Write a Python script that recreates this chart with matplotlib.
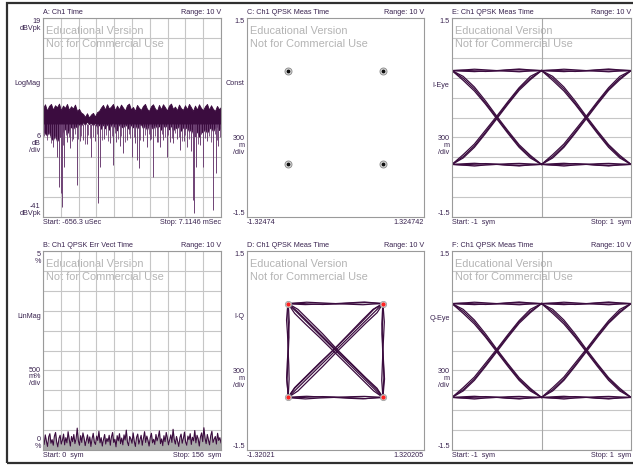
import numpy as np
import matplotlib
matplotlib.use('Agg')
import matplotlib.pyplot as plt
from matplotlib.patches import Rectangle

plt.rcParams['font.family'] = ['Liberation Sans', 'DejaVu Sans']

W, H = 633, 467
TRACE = '#3b0c3f'
SPIKE = '#6e4274'
LENS = '#b898b8'
LABEL = '#3a2450'
GRID = '#c6c6c6'
FRAME = '#9a9a9a'
WATER = '#b4b4b4'

# ---- A: Ch1 Time, LogMag (dBVpk) ----
a_start_us, a_stop_us = -656.3, 7114.6
a_top = [-8.2, -7.0, -8.9, -7.5, -6.9, -8.6, -7.3, -7.9, -6.8, -8.8,
         -7.4, -8.1, -6.9, -8.7, -7.6, -8.3, -7.1, -9.0, -8.4, -9.5,
         -9.9, -10.8, -9.7, -11.0, -10.1, -9.6, -10.7, -9.4, -9.0, -8.0,
         -7.2, -8.6, -7.0, -8.3, -7.7, -6.9, -8.8, -7.4, -8.5, -7.1,
         -8.0, -8.9, -7.3, -6.8, -8.6, -7.8, -9.0, -7.2, -8.1, -8.7,
         -7.5, -6.9, -8.4, -9.0, -7.6, -7.0, -8.3, -8.9, -7.2, -8.5,
         -7.0, -7.9, -8.9, -7.4, -6.8, -8.4, -7.7, -8.8, -7.1, -8.2,
         -8.7, -7.3, -8.5, -6.9, -7.9, -9.0, -7.4, -8.6, -7.0, -8.1,
         -8.8, -7.6, -6.9, -8.6, -7.3, -8.4, -9.0, -7.5, -8.5, -7.8]
a_bot = [-14.9, -15.8, -16.4, -15.0, -17.2, -17.9, -16.0, -18.3, -16.9, -16.6,
         -15.1, -14.2, -16.0, -14.6, -13.8, -14.5, -13.4, -14.1, -12.9, -13.5,
         -12.4, -13.2, -12.2, -13.0, -12.6, -13.4, -12.5, -13.8, -13.1, -14.4,
         -13.0, -14.3, -12.8, -14.7, -13.3, -12.7, -14.2, -14.9, -13.0, -13.6,
         -14.1, -12.9, -13.7, -14.6, -13.1, -14.0, -12.8, -14.4, -13.5, -13.0,
         -14.3, -13.2, -14.8, -12.9, -13.6, -14.5, -13.0, -14.2, -13.4, -14.7,
         -13.1, -14.0, -12.9, -14.6, -13.3, -15.1, -13.8, -14.4, -13.2, -15.0,
         -13.9, -14.5, -13.6, -15.3, -14.1, -15.9, -16.6, -15.0, -16.8, -15.5,
         -15.4, -14.3, -15.7, -14.5, -13.9, -15.2, -14.0, -13.6, -14.8, -13.7]
a_spike_t = [-220, -45, 42, 130, 173, 260, 400, 522, 650, 828,
             960, 1090, 1250, 1440, 1600, 1745, 1832, 2000, 2270, 2400,
             2550, 2700, 2836, 3000, 3230, 3350, 3448, 3535, 3700, 3884,
             4000, 4146, 4300, 4452, 4600, 4757, 4900, 5020, 5200, 5325,
             5500, 5630, 5800, 5893, 5936, 6024, 6200, 6330, 6500, 6766,
             6897, 7000]
a_spike_db = [-19.9, -22.9, -32.0, -33.8, -38.0, -25.9, -18.5, -20.2, -17.5, -31.3,
              -18.0, -17.8, -19.0, -22.9, -18.2, -36.8, -25.9, -17.6, -18.7, -25.3,
              -18.4, -19.6, -21.7, -17.9, -22.9, -18.6, -23.8, -26.2, -18.1, -19.9,
              -17.7, -28.9, -18.3, -19.9, -17.8, -22.9, -18.5, -18.7, -17.6, -20.8,
              -18.2, -19.9, -21.0, -35.9, -39.8, -25.9, -19.3, -25.9, -18.0, -38.9,
              -27.7, -19.5]
a_hair_t = [-600, -500, -380, -300, -130, 90, 210, 330, 470, 590,
            720, 880, 1020, 1160, 1320, 1390, 1520, 1680, 1900, 2100,
            2180, 2340, 2480, 2620, 2760, 2920, 3080, 3160, 3300, 3600,
            3780, 3960, 4080, 4220, 4380, 4520, 4680, 4820, 4980, 5100,
            5260, 5420, 5560, 5720, 5980, 6100, 6260, 6420, 6580, 6680,
            6850, 6960, 7080]
a_hair_db = [-16.5, -17.8, -16.0, -18.6, -17.2, -16.8, -19.4, -16.3, -17.0, -18.2,
             -16.1, -17.5, -16.6, -18.9, -16.2, -17.3, -16.9, -15.9, -17.7, -16.4,
             -18.1, -16.7, -15.8, -17.4, -16.5, -18.5, -16.0, -17.1, -16.8, -17.9,
             -16.3, -15.9, -17.6, -16.6, -18.3, -16.1, -17.0, -16.4, -17.2, -15.8,
             -16.9, -18.0, -16.2, -17.4, -16.7, -19.0, -16.0, -17.3, -16.6, -18.4,
             -16.1, -17.7, -16.9]

# ---- B: Ch1 QPSK Err Vect Time (%) ----
b_evm = [0.30, 0.14, 0.38, 0.22, 0.09, 0.33, 0.41, 0.17, 0.26, 0.12,
         0.35, 0.44, 0.20, 0.08, 0.29, 0.37, 0.15, 0.24, 0.40, 0.13,
         0.31, 0.18, 0.46, 0.27, 0.10, 0.34, 0.21, 0.39, 0.16, 0.28,
         0.55, 0.23, 0.12, 0.36, 0.19, 0.43, 0.30, 0.11, 0.25, 0.38,
         0.17, 0.33, 0.09, 0.28, 0.42, 0.20, 0.14, 0.35, 0.24, 0.47,
         0.18, 0.31, 0.10, 0.26, 0.39, 0.15, 0.29, 0.21, 0.37, 0.12,
         0.33, 0.44, 0.19, 0.27, 0.08, 0.36, 0.23, 0.41, 0.16, 0.30,
         0.13, 0.38, 0.25, 0.50, 0.20, 0.11, 0.34, 0.28, 0.17, 0.43,
         0.22, 0.09, 0.32, 0.40, 0.15, 0.26, 0.37, 0.12, 0.29, 0.46,
         0.19, 0.35, 0.24, 0.10, 0.31, 0.42, 0.18, 0.27, 0.14, 0.39,
         0.23, 0.33, 0.48, 0.16, 0.28, 0.11, 0.36, 0.21, 0.44, 0.30,
         0.13, 0.25, 0.38, 0.19, 0.52, 0.27, 0.15, 0.34, 0.22, 0.09,
         0.31, 0.40, 0.17, 0.29, 0.45, 0.20, 0.12, 0.35, 0.26, 0.41,
         0.14, 0.32, 0.23, 0.49, 0.18, 0.37, 0.28, 0.10, 0.33, 0.43,
         0.21, 0.56, 0.30, 0.16, 0.39, 0.25, 0.13, 0.36, 0.47, 0.19,
         0.27, 0.34, 0.15, 0.42, 0.24, 0.31, 0.18]

# ---- C: constellation points ----
const_i = [-0.707, 0.707, -0.707, 0.707]
const_q = [0.707, 0.707, -0.707, -0.707]

# ---- eye / I-Q trajectory pieces, sampled every 1/8 symbol ----
eye_frac = [0.0, 0.125, 0.25, 0.375, 0.5, 0.625, 0.75, 0.875, 1.0]
fall_1 = [0.707, 0.59, 0.43, 0.22, 0.00, -0.22, -0.43, -0.59, -0.707]
fall_2 = [0.707, 0.62, 0.46, 0.25, 0.02, -0.20, -0.41, -0.57, -0.707]
fall_3 = [0.707, 0.56, 0.40, 0.20, -0.02, -0.24, -0.45, -0.61, -0.707]
rise_1 = [-0.707, -0.59, -0.43, -0.22, 0.00, 0.22, 0.43, 0.59, 0.707]
rise_2 = [-0.707, -0.61, -0.45, -0.24, -0.02, 0.20, 0.41, 0.57, 0.707]
rise_3 = [-0.707, -0.56, -0.40, -0.19, 0.02, 0.24, 0.45, 0.62, 0.707]
high_1 = [0.707, 0.716, 0.728, 0.718, 0.707, 0.719, 0.731, 0.717, 0.707]
high_2 = [0.707, 0.699, 0.692, 0.700, 0.707, 0.698, 0.690, 0.701, 0.707]
high_3 = [0.707, 0.711, 0.702, 0.694, 0.703, 0.714, 0.722, 0.712, 0.707]
low_1 = [-0.707, -0.718, -0.730, -0.716, -0.707, -0.720, -0.729, -0.715, -0.707]
low_2 = [-0.707, -0.698, -0.690, -0.701, -0.707, -0.697, -0.692, -0.700, -0.707]
low_3 = [-0.707, -0.712, -0.703, -0.695, -0.704, -0.713, -0.724, -0.711, -0.707]
eye_pieces = [fall_1, fall_2, fall_3, rise_1, rise_2, rise_3,
              high_1, high_2, high_3, low_1, low_2, low_3]
iq_pairs = [(rise_1, high_1), (rise_2, high_2), (rise_3, high_3),
            (rise_1, low_2), (rise_2, low_1), (rise_3, low_3),
            (high_1, fall_1), (high_2, fall_3), (high_3, fall_2),
            (low_1, fall_2), (low_2, fall_1), (low_3, fall_3),
            (rise_1, fall_1), (rise_2, fall_3), (rise_3, fall_2),
            (rise_1, rise_1), (rise_2, rise_3), (rise_3, rise_2),
            (fall_2, rise_1), (fall_3, fall_2)]

fig = plt.figure(figsize=(W / 100, H / 100), dpi=100)
fig.patches.append(Rectangle((7 / W, 1 - 463 / H), 640 / W, 460 / H,
                             transform=fig.transFigure, fill=False,
                             ec='#303030', lw=1.6))


def make_ax(x0, x1, y0, y1):
    return fig.add_axes([x0 / W, 1 - y1 / H, (x1 - x0) / W, (y1 - y0) / H])


def dress(ax, title, start, stop, ylabels, grid_x=True, grid_y=True):
    for s in ax.spines.values():
        s.set_color(FRAME)
        s.set_linewidth(0.8)
    ax.tick_params(length=0, labelleft=False, labelbottom=False)
    if grid_x:
        ax.xaxis.grid(True, color=GRID, lw=0.8)
    if grid_y:
        ax.yaxis.grid(True, color=GRID, lw=0.8)
    ax.set_axisbelow(True)
    kw = dict(transform=ax.transAxes, fontsize=5.2, color=LABEL)
    ax.text(0, 1.008, title, ha='left', va='bottom', **kw)
    ax.text(1, 1.008, 'Range: 10 V', ha='right', va='bottom', **kw)
    ax.text(0, -0.012, start, ha='left', va='top', **kw)
    ax.text(1, -0.012, stop, ha='right', va='top', **kw)
    for y, s, va in ylabels:
        ax.text(-0.013, y, s, ha='right', va=va, multialignment='right',
                linespacing=0.95, **kw)
    wk = dict(transform=ax.transAxes, fontsize=7.9, color=WATER,
              ha='left', va='center', zorder=0.5)
    ax.text(0.016, 0.935, 'Educational Version', **wk)
    ax.text(0.016, 0.869, 'Not for Commercial Use', **wk)


XL, XM, XR = (43, 221), (247, 424), (452, 631)
YT, YB = (18, 217), (251, 450)

# A
ax = make_ax(*XL, *YT)
t = np.linspace(a_start_us, a_stop_us, len(a_top))
ax.set_xlim(a_start_us, a_stop_us)
ax.set_ylim(-41, 19)
ax.set_xticks(np.linspace(a_start_us, a_stop_us, 11))
ax.set_yticks(np.arange(-41, 20, 6))
ax.vlines(a_hair_t, -13, a_hair_db, color=SPIKE, lw=0.6)
ax.vlines(a_spike_t, -13, a_spike_db, color=SPIKE, lw=0.7)
ax.fill_between(t, a_bot, a_top, color=TRACE, lw=0.6, ec=TRACE)
dress(ax, 'A: Ch1 Time', 'Start: -656.3 uSec', 'Stop: 7.1146 mSec',
      [(1.0, '19\ndBVpk', 'top'), (0.673, 'LogMag', 'center'),
       (0.37, '6\ndB\n/div', 'center'), (0.0, '-41\ndBVpk', 'bottom')])

# B
ax = make_ax(*XL, *YB)
sym = np.arange(len(b_evm))
ax.set_xlim(0, 156)
ax.set_ylim(0, 5)
ax.set_xticks(np.linspace(0, 156, 11))
ax.set_yticks(np.linspace(0, 5, 11))
ax.fill_between(sym, 0, b_evm, color='#a8a8a8', lw=0)
ax.plot(sym, b_evm, color=TRACE, lw=0.8)
dress(ax, 'B: Ch1 QPSK Err Vect Time', 'Start: 0  sym', 'Stop: 156  sym',
      [(1.0, '5\n%', 'top'), (0.673, 'LinMag', 'center'),
       (0.367, '500\nm%\n/div', 'center'), (0.0, '0\n%', 'bottom')])

# C
ax = make_ax(*XM, *YT)
ax.set_xlim(-1.32474, 1.324742)
ax.set_ylim(-1.5, 1.5)
ax.plot(const_i, const_q, 'o', ls='none', ms=5, mfc='#e6e6e6', mec='#8c8c8c', mew=0.7)
ax.plot(const_i, const_q, 'o', ls='none', ms=1.8, color='#101010')
dress(ax, 'C: Ch1 QPSK Meas Time', '-1.32474', '1.324742',
      [(1.0, '1.5', 'top'), (0.673, 'Const', 'center'),
       (0.36, '300\nm\n/div', 'center'), (0.0, '-1.5', 'bottom')],
      grid_x=False, grid_y=False)

# D
ax = make_ax(*XM, *YB)
ax.set_xlim(-1.32021, 1.320205)
ax.set_ylim(-1.5, 1.5)
for ii, qq in iq_pairs:
    ax.plot(ii, qq, color=TRACE, lw=0.9)
ax.plot(const_i, const_q, 'o', ls='none', ms=4.5, mfc='#d8d8d8', mec='#a0a0a0', mew=0.6)
ax.plot(const_i, const_q, 'o', ls='none', ms=2, color='#ff2020')
dress(ax, 'D: Ch1 QPSK Meas Time', '-1.32021', '1.320205',
      [(1.0, '1.5', 'top'), (0.673, 'I-Q', 'center'),
       (0.36, '300\nm\n/div', 'center'), (0.0, '-1.5', 'bottom')],
      grid_x=False, grid_y=False)

# E and F: eye diagrams
for (y0, y1), letter, name in [(YT, 'E', 'I-Eye'), (YB, 'F', 'Q-Eye')]:
    ax = make_ax(*XR, y0, y1)
    ax.set_xlim(-1, 1)
    ax.set_ylim(-1.5, 1.5)
    ax.set_yticks(np.linspace(-1.5, 1.5, 11))
    ax.axvline(0, color='#a8a8a8', lw=0.8, zorder=0.6)
    for s0 in (-1, 0):
        x = np.add(eye_frac, s0)
        ax.fill_between(x, high_1, high_2, color=LENS, lw=0)
        ax.fill_between(x, low_1, low_2, color=LENS, lw=0)
        for piece in eye_pieces:
            ax.plot(x, piece, color=TRACE, lw=0.9)
    dress(ax, letter + ': Ch1 QPSK Meas Time', 'Start: -1  sym', 'Stop: 1  sym',
          [(1.0, '1.5', 'top'), (0.663, name, 'center'),
           (0.36, '300\nm\n/div', 'center'), (0.0, '-1.5', 'bottom')],
          grid_x=False, grid_y=True)

fig.savefig('out.png', dpi=100)
